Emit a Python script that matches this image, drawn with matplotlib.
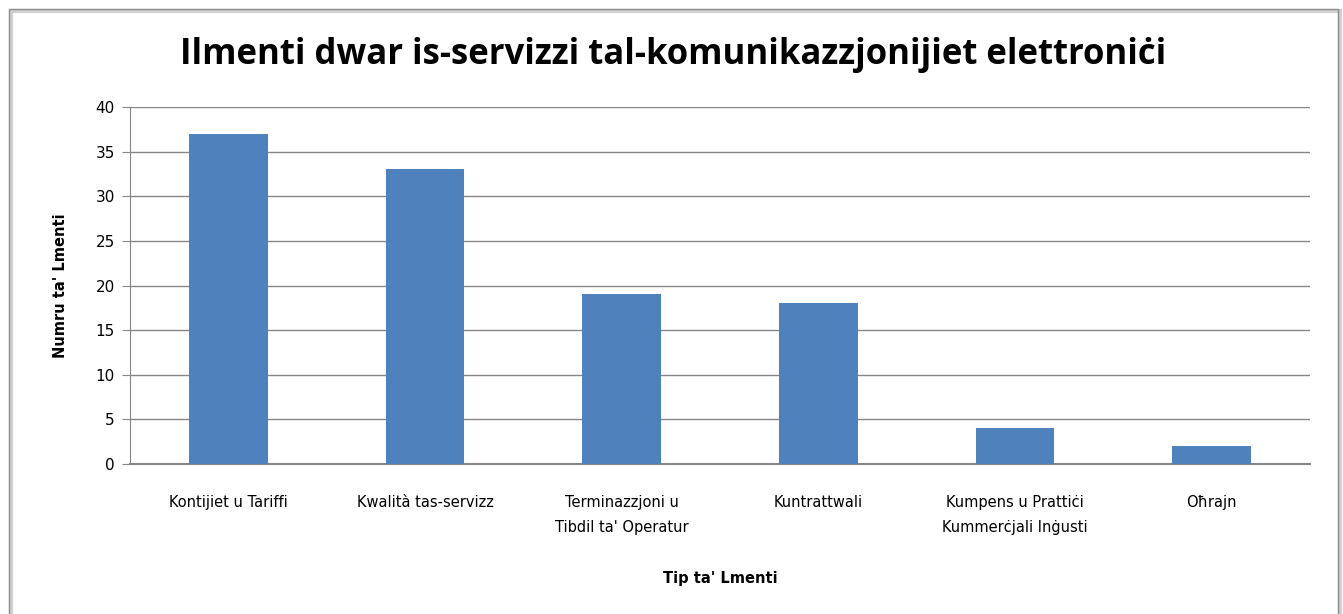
import matplotlib
matplotlib.use("Agg")
import matplotlib.pyplot as plt
from matplotlib.patches import Rectangle

categories = ["Kontijiet u Tariffi", "Kwalità tas-servizz", "Terminazzjoni u\nTibdil ta' Operatur",
              "Kuntrattwali", "Kumpens u Prattiċi\nKummerċjali Inġusti", "Oħrajn"]
values = [37, 33, 19, 18, 4, 2]
yticks = [0, 5, 10, 15, 20, 25, 30, 35, 40]

W, H = 1343, 614
fig = plt.figure(figsize=(W / 100, H / 100), dpi=100)
fig.patch.set_facecolor("white")

# outer frame with slight shadow
fig.patches.append(Rectangle((11 / W, -0.01), (1340 - 11) / W, (H - 11) / H + 0.01,
                             transform=fig.transFigure, fill=False, edgecolor="#d0d0d0", lw=3))
fig.patches.append(Rectangle((9 / W, -0.01), (1338 - 9) / W, (H - 9) / H + 0.01,
                             transform=fig.transFigure, fill=False, edgecolor="#8c8c8c", lw=1))

ax = fig.add_axes([130 / W, 1 - 464 / H, (1310 - 130) / W, (464 - 107) / H])
x = range(len(categories))
ax.bar(x, values, width=0.4, color="#4F81BD", zorder=3)
ax.set_xlim(-0.5, len(categories) - 0.5)
ax.set_ylim(0, 40)
ax.set_yticks(yticks)
ax.set_xticks(list(x))
ax.set_xticklabels(categories, fontsize=10.5, family="DejaVu Sans", linespacing=1.9)
ax.tick_params(axis="x", length=0, pad=22)
ax.tick_params(axis="y", length=6, color="#868686", labelsize=11, pad=5)
for lbl in ax.get_yticklabels():
    lbl.set_family("DejaVu Sans")
ax.grid(axis="y", color="#868686", lw=1, zorder=0)
for s in ["top", "right"]:
    ax.spines[s].set_visible(False)
ax.spines["left"].set_color("#868686")
ax.spines["bottom"].set_color("#868686")
ax.spines["bottom"].set_linewidth(1.5)

ax.set_ylabel("Numru ta' Lmenti", fontsize=10.5, fontweight="bold", labelpad=20)
ax.set_xlabel("Tip ta' Lmenti", fontsize=10.5, fontweight="bold", labelpad=26)

fig.text(673 / W, 1 - 55 / H, "Ilmenti dwar is-servizzi tal-komunikazzjonijiet elettroniċi",
         ha="center", va="center", fontsize=25, fontweight="bold", family="Open Sans")

fig.savefig("out.png", dpi=100)
